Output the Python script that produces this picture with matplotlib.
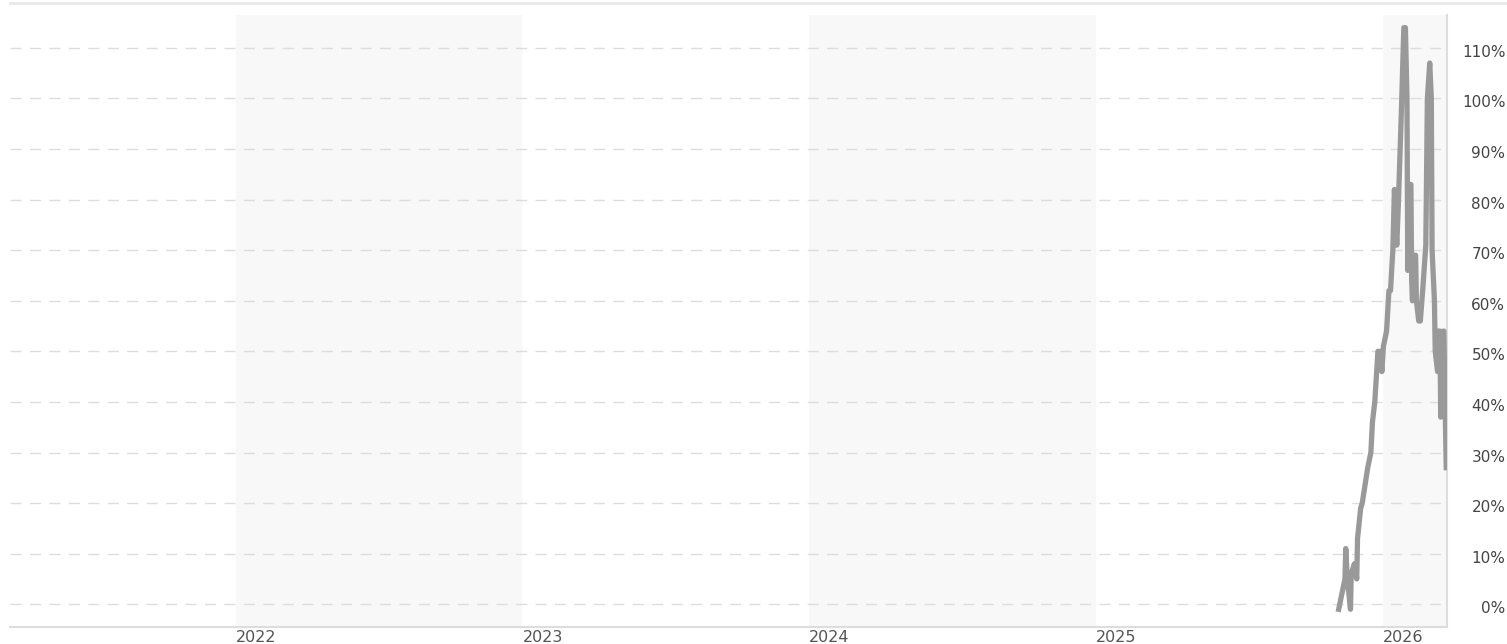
import numpy as np, pandas as pd
import matplotlib
matplotlib.use("Agg")
import matplotlib.pyplot as plt
import matplotlib.transforms as mtrans
from matplotlib.lines import Line2D

# series (percent)
dates = ["2025-11-06", "2025-11-14", "2025-11-15", "2025-11-17", "2025-11-21", "2025-11-22",
         "2025-11-26", "2025-11-29", "2025-11-30", "2025-12-04", "2025-12-06", "2025-12-10",
         "2025-12-13", "2025-12-17", "2025-12-19", "2025-12-22", "2025-12-26", "2025-12-29",
         "2025-12-31", "2026-01-02", "2026-01-06", "2026-01-09", "2026-01-11", "2026-01-14",
         "2026-01-16", "2026-01-19", "2026-01-20", "2026-01-21", "2026-01-25", "2026-01-28",
         "2026-01-30", "2026-02-01", "2026-02-02", "2026-02-03", "2026-02-06", "2026-02-07",
         "2026-02-08", "2026-02-09", "2026-02-12", "2026-02-13", "2026-02-16", "2026-02-18",
         "2026-02-21", "2026-02-25", "2026-02-27", "2026-03-02", "2026-03-04", "2026-03-05",
         "2026-03-08", "2026-03-09", "2026-03-12", "2026-03-13", "2026-03-15", "2026-03-16",
         "2026-03-19", "2026-03-20", "2026-03-23"]
values = [-1, 5, 11, 5, -1, 6,
          8, 5, 13, 19, 20, 24,
          27, 30, 36, 40, 50, 50,
          46, 51, 54, 62, 62, 70,
          82, 71, 75, 79, 98, 114,
          114, 100, 66, 83, 83, 64,
          60, 69, 69, 60, 56, 56,
          62, 71, 100, 107, 100, 70,
          60, 50, 46, 54, 54, 37,
          54, 54, 27]

shade_years = [2022, 2024, 2026]
year_ticks = [2022, 2023, 2024, 2025, 2026]
y_ticks = list(range(0, 111, 10))

W, H = 1507, 644
fig = plt.figure(figsize=(W / 100, H / 100), dpi=100)
ax = fig.add_axes([10 / W, (H - 627) / H, (1447 - 10) / W, (627 - 15) / H])

x_left = pd.Timestamp("2021-03-19")
x_right = pd.Timestamp("2026-03-24")

for yr in shade_years:
    ax.axvspan(pd.Timestamp(f"{yr}-01-01"), min(pd.Timestamp(f"{yr + 1}-01-01"), x_right),
               color="#f8f8f8", lw=0, zorder=0)

for v in y_ticks:
    ax.axhline(v, color="#dddddd", lw=1, ls=(0, (8, 6)), zorder=1)

ax.plot(pd.to_datetime(dates), values, color="#999999", lw=3.8,
        solid_joinstyle="round", zorder=3)

ax.set_xlim(x_left, x_right)
ax.set_ylim(-4.5, 116.5)

ax.set_xticks([pd.Timestamp(f"{y}-01-01") for y in year_ticks])
ax.set_xticklabels([str(y) for y in year_ticks], ha="left", color="#555555", fontsize=11.5)
ax.tick_params(axis="x", length=0, pad=2)

ax.yaxis.tick_right()
ax.set_yticks(y_ticks)
ax.set_yticklabels([f"{v}%" for v in y_ticks], color="#444444", fontsize=11)
ax.tick_params(axis="y", length=0, pad=42)
off = mtrans.ScaledTranslation(0, -3 / 100, fig.dpi_scale_trans)
for lab in ax.get_yticklabels():
    lab.set_horizontalalignment("right")
    lab.set_transform(lab.get_transform() + off)

for s in ["top", "left"]:
    ax.spines[s].set_visible(False)
ax.spines["bottom"].set_color("#dddddd")
ax.spines["right"].set_color("#dddddd")
ax.spines["bottom"].set_linewidth(1.5)
ax.spines["right"].set_linewidth(1.5)

fig.add_artist(Line2D([10 / W, 1.0], [(H - 2.5) / H] * 2, color="#e8e8e8", lw=2,
                      transform=fig.transFigure))

fig.savefig("out.png", dpi=100, facecolor="white")
